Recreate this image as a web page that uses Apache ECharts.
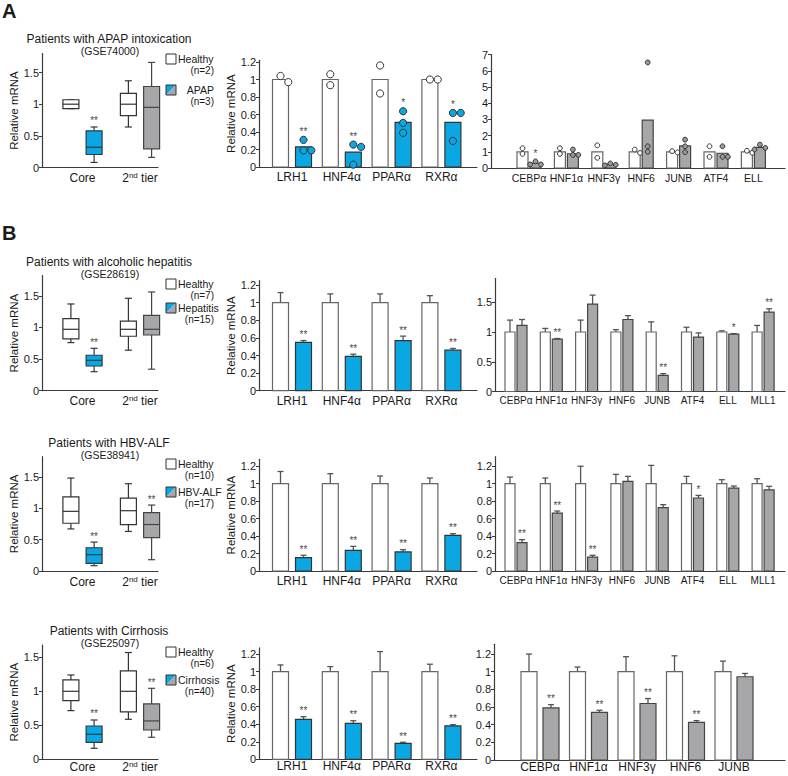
<!DOCTYPE html>
<html><head><meta charset="utf-8">
<script src="https://cdn.jsdelivr.net/npm/echarts@6/dist/echarts.min.js"></script>
<style>html,body{margin:0;padding:0;background:#fff}#c{width:788px;height:776px}</style>
</head><body><div id="c"></div>
<script>
// ---------------- DATA ----------------
const boxCategories = ['Core', '2nd tier'];
const coreGenes = ['LRH1', 'HNF4α', 'PPARα', 'RXRα'];
const apapGenes = ['CEBPα', 'HNF1α', 'HNF3γ', 'HNF6', 'JUNB', 'ATF4', 'ELL'];
const tierGenes8 = ['CEBPα', 'HNF1α', 'HNF3γ', 'HNF6', 'JUNB', 'ATF4', 'ELL', 'MLL1'];
const cirrGenes = ['CEBPα', 'HNF1α', 'HNF3γ', 'HNF6', 'JUNB'];

const boxTicks = [0, 0.5, 1, 1.5];
const midTicks = [0, 0.2, 0.4, 0.6, 0.8, 1, 1.2];
const apapRightTicks = [0, 1, 2, 3, 4, 5, 6, 7];
const ahRightTicks = [0, 0.5, 1, 1.5];

const titles = ['Patients with APAP intoxication', 'Patients with alcoholic hepatitis', 'Patients with HBV-ALF', 'Patients with Cirrhosis'];
const datasets = ['(GSE74000)', '(GSE28619)', '(GSE38941)', '(GSE25097)'];
const diseaseNames = ['APAP', 'Hepatitis', 'HBV-ALF', 'Cirrhosis'];
const healthyN = ['(n=2)', '(n=7)', '(n=10)', '(n=6)'];
const diseaseN = ['(n=3)', '(n=15)', '(n=17)', '(n=40)'];

// box stats: [min, q1, median, q3, max]
const apapBoxHealthy = [[0.93, 0.93, 1.0, 1.07, 1.07], [0.64, 0.82, 1.0, 1.17, 1.37]];
const apapBoxDisease = [[0.08, 0.205, 0.32, 0.58, 0.64], [0.16, 0.295, 0.95, 1.28, 1.66]];
const apapBoxSig = ['**', ''];
const apapCoreHealthyBar = [1, 1, 1, 1];
const apapCoreHealthyDots = [[1.04, 0.97], [1.06, 0.935], [1.16, 0.84], [1.0, 1.0]];
const apapCoreDiseaseBar = [0.23, 0.17, 0.51, 0.51];
const apapCoreDiseaseDots = [[0.31, 0.19, 0.19], [0.256, 0.23, 0.027], [0.637, 0.504, 0.39], [0.618, 0.618, 0.298]];
const apapCoreSig = ['**', '**', '*', '*'];
const apapTierHealthyBar = [1, 1, 1, 1, 1, 1, 1];
const apapTierHealthyDots = [[1.22, 0.87], [1.22, 0.87], [1.40, 0.63], [1.14, 0.93], [1.04, 0.96], [1.34, 0.69], [1.06, 0.94]];
const apapTierDiseaseBar = [0.3, 0.88, 0.22, 2.95, 1.36, 0.91, 1.27];
const apapTierDiseaseDots = [[0.41, 0.22, 0.22], [1.14, 0.81, 0.81], [0.28, 0.2, 0.16], [6.52, 1.34, 1.0], [1.75, 1.34, 0.98], [1.34, 0.69, 0.69], [1.44, 1.24, 1.14]];
const apapTierSig = ['*', '', '', '', '', '', ''];

const ahBoxHealthy = [[0.76, 0.82, 0.97, 1.14, 1.37], [0.64, 0.86, 0.97, 1.10, 1.46]];
const ahBoxDisease = [[0.30, 0.39, 0.48, 0.56, 0.67], [0.34, 0.88, 0.97, 1.19, 1.56]];
const ahBoxSig = ['**', ''];
const ahCoreHealthy = [1, 1, 1, 1];
const ahCoreHealthyErr = [0.115, 0.10, 0.10, 0.08];
const ahCoreDisease = [0.55, 0.39, 0.57, 0.46];
const ahCoreDiseaseErr = [0.02, 0.025, 0.05, 0.02];
const ahCoreSig = ['**', '**', '**', '**'];
const ahTierHealthy = [1, 1, 1, 1, 1, 1, 1, 1];
const ahTierHealthyErr = [0.2, 0.06, 0.2, 0.04, 0.17, 0.08, 0.02, 0.11];
const ahTierDisease = [1.11, 0.88, 1.47, 1.21, 0.27, 0.915, 0.965, 1.335];
const ahTierDiseaseErr = [0.1, 0.01, 0.15, 0.065, 0.03, 0.07, 0.008, 0.055];
const ahTierSig = ['', '**', '', '', '**', '', '*', '**'];

const hbvBoxHealthy = [[0.67, 0.76, 0.95, 1.18, 1.48], [0.63, 0.74, 0.96, 1.16, 1.39]];
const hbvBoxDisease = [[0.085, 0.12, 0.26, 0.37, 0.46], [0.18, 0.53, 0.74, 0.93, 1.05]];
const hbvBoxSig = ['**', '**'];
const hbvCoreHealthy = [1, 1, 1, 1];
const hbvCoreHealthyErr = [0.14, 0.115, 0.088, 0.065];
const hbvCoreDisease = [0.153, 0.237, 0.218, 0.408];
const hbvCoreDiseaseErr = [0.027, 0.045, 0.026, 0.02];
const hbvCoreSig = ['**', '**', '**', '**'];
const hbvTierHealthy = [1, 1, 1, 1, 1, 1, 1, 1];
const hbvTierHealthyErr = [0.076, 0.065, 0.2, 0.107, 0.21, 0.084, 0.046, 0.057];
const hbvTierDisease = [0.324, 0.664, 0.16, 1.027, 0.725, 0.836, 0.95, 0.93];
const hbvTierDiseaseErr = [0.035, 0.023, 0.02, 0.057, 0.035, 0.03, 0.023, 0.04];
const hbvTierSig = ['**', '**', '**', '', '', '*', '', ''];

const cirBoxHealthy = [[0.716, 0.863, 1.0, 1.167, 1.24], [0.588, 0.696, 1.0, 1.30, 1.57]];
const cirBoxDisease = [[0.162, 0.25, 0.368, 0.49, 0.578], [0.324, 0.431, 0.564, 0.814, 1.044]];
const cirBoxSig = ['**', '**'];
const cirCoreHealthy = [1, 1, 1, 1];
const cirCoreHealthyErr = [0.076, 0.057, 0.228, 0.084];
const cirCoreDisease = [0.456, 0.41, 0.182, 0.38];
const cirCoreDiseaseErr = [0.03, 0.03, 0.012, 0.015];
const cirCoreSig = ['**', '**', '**', '**'];
const cirTierHealthy = [1, 1, 1, 1, 1];
const cirTierHealthyErr = [0.2, 0.053, 0.17, 0.18, 0.12];
const cirTierDisease = [0.59, 0.54, 0.64, 0.426, 0.943];
const cirTierDiseaseErr = [0.037, 0.023, 0.056, 0.02, 0.037];
const cirTierSig = ['**', '**', '**', '**', ''];

// ---------------- STYLE / LAYOUT ----------------
const FONT = '"Liberation Sans", Arial, Helvetica, sans-serif';
const BLUE = '#0AA7E2';
const GRAY = '#A7A7A9';
const AXIS = '#3a3a3a';
const TXT = '#1a1a1a';

const boxX = { left: 42, right: 158, first: 82.5, spacing: 57.5, w: 16, off: 11.6 };
const midX = { left: 259, right: 477, first: 292, spacing: 49.8, w: 16, off: 11.5 };
const rows = [
  { titleY: 39, legY: [54, 85], nameRight: true, margin: 4,
    box: { y0: 167.5, ppu: 63.3, ymax: 1.8 }, mid: { y0: 167, ppu: 87.5, ymax: 1.22 },
    right: { left: 491, right: 785, first: 529, spacing: 37.4, w: 11, off: 6.5, font: 10.5, y0: 168, ppu: 16.2, ymax: 7, ticks: apapRightTicks } },
  { titleY: 262, legY: [279, 303], margin: 4,
    box: { y0: 390.7, ppu: 63.3, ymax: 1.82 }, mid: { y0: 390.7, ppu: 88, ymax: 1.25 },
    right: { left: 495, right: 785, first: 516, spacing: 35.3, w: 10, off: 6, font: 10, y0: 391.5, ppu: 59.5, ymax: 1.9, ticks: ahRightTicks } },
  { titleY: 443, legY: [459, 487], margin: 4,
    box: { y0: 571, ppu: 62.8, ymax: 1.82 }, mid: { y0: 571, ppu: 87.3, ymax: 1.28 },
    right: { left: 495, right: 785, first: 516, spacing: 35.3, w: 10, off: 6, font: 10, y0: 571, ppu: 87.3, ymax: 1.31, ticks: midTicks } },
  { titleY: 630.7, legY: [647, 675], margin: 1,
    box: { y0: 759.3, ppu: 68, ymax: 1.68 }, mid: { y0: 759.3, ppu: 87.7, ymax: 1.27 },
    right: { left: 494, right: 785, first: 540, spacing: 48.5, w: 16, off: 11, font: 12, y0: 760, ppu: 88.3, ymax: 1.31, ticks: midTicks } }
];

const option = {
  animation: false, backgroundColor: '#fff',
  grid: [], xAxis: [], yAxis: [], series: [], graphic: { elements: [] }
};

function addPanel(xc, yc, ticks, cats, catFont, margin, yName, nameGap, rich) {
  const idx = option.grid.length;
  const h = yc.ymax * yc.ppu;
  option.grid.push({ left: xc.left, top: yc.y0 - h, width: xc.right - xc.left, height: h, containLabel: false, outerBoundsMode: 'none' });
  option.xAxis.push({
    type: 'value', gridIndex: idx,
    min: -(xc.first - xc.left) / xc.spacing, max: (xc.right - xc.first) / xc.spacing,
    splitLine: { show: false }, axisTick: { show: false },
    axisLine: { show: true, onZero: false, lineStyle: { color: AXIS, width: 1.2 } },
    axisLabel: {
      customValues: cats.map((c, i) => i),
      formatter: v => {
        const c = cats[Math.round(v)] || '';
        if (rich && /^2nd/.test(c)) return '{n|2}{s|nd}{n|' + c.slice(3) + '}';
        return rich ? '{n|' + c + '}' : c;
      },
      fontSize: catFont, fontFamily: FONT, color: TXT, margin: margin, rich: rich
    }
  });
  option.yAxis.push({
    type: 'value', gridIndex: idx, min: 0, max: yc.ymax,
    splitLine: { show: false },
    axisLine: { show: true, onZero: false, lineStyle: { color: AXIS, width: 1.2 } },
    axisTick: { show: true, length: 3, customValues: ticks, lineStyle: { color: AXIS, width: 1 } },
    axisLabel: { customValues: ticks, formatter: v => String(v), fontSize: 11, fontFamily: FONT, color: TXT, margin: 3 },
    name: yName, nameLocation: 'middle', nameGap: nameGap,
    nameTextStyle: { fontSize: 11.5, fontFamily: FONT, color: TXT }
  });
  return idx;
}

function starText(x, y, s) {
  return { type: 'text', style: { text: s, x: x, y: y, align: 'center', verticalAlign: 'middle', font: '10px ' + FONT, fill: '#4a4a4a' } };
}

function boxSeries(ai, stats, fills, strokes, sig, off, w) {
  option.series.push({
    type: 'custom', xAxisIndex: ai, yAxisIndex: ai, clip: false,
    data: stats.map((s, i) => [i].concat(s)),
    encode: { x: 0, y: [1, 2, 3, 4, 5] },
    renderItem: function (params, api) {
      const i = params.dataIndex;
      const s = stats[i];
      const cx = api.coord([i, 0])[0] + off;
      const Y = v => api.coord([i, v])[1];
      const st = strokes[i];
      const ls = { stroke: st, lineWidth: 1.2 };
      const cw = w * 0.22;
      const ch = [
        { type: 'line', shape: { x1: cx, y1: Y(s[4]), x2: cx, y2: Y(s[3]) }, style: ls },
        { type: 'line', shape: { x1: cx, y1: Y(s[1]), x2: cx, y2: Y(s[0]) }, style: ls },
        { type: 'line', shape: { x1: cx - cw, y1: Y(s[4]), x2: cx + cw, y2: Y(s[4]) }, style: ls },
        { type: 'line', shape: { x1: cx - cw, y1: Y(s[0]), x2: cx + cw, y2: Y(s[0]) }, style: ls },
        { type: 'rect', shape: { x: cx - w / 2, y: Y(s[3]), width: w, height: Y(s[1]) - Y(s[3]) }, style: { fill: fills[i], stroke: st, lineWidth: 1.2 } },
        { type: 'line', shape: { x1: cx - w / 2, y1: Y(s[2]), x2: cx + w / 2, y2: Y(s[2]) }, style: ls }
      ];
      if (sig[i]) ch.push(starText(cx, Y(s[4]) - 6, sig[i]));
      return { type: 'group', children: ch };
    }
  });
}

function swarm(cx, ys, r) {
  const d = 2 * r + 0.6;
  const placed = [];
  ys.forEach(y => {
    const cands = [0, d, -d, 2 * d, -2 * d];
    for (const o of cands) {
      const x = cx + o;
      if (placed.every(p => (p[0] - x) * (p[0] - x) + (p[1] - y) * (p[1] - y) >= d * d * 0.9)) { placed.push([x, y]); break; }
    }
  });
  return placed;
}

function dotBarSeries(ai, bars, dots, sig, fill, stroke, dotFill, off, w, r) {
  option.series.push({
    type: 'custom', xAxisIndex: ai, yAxisIndex: ai, clip: false,
    data: bars.map((b, i) => [i, b]),
    encode: { x: 0, y: 1 },
    renderItem: function (params, api) {
      const i = params.dataIndex;
      const cx = api.coord([i, 0])[0] + off;
      const Y = v => api.coord([i, v])[1];
      const y0 = Y(0), yb = Y(bars[i]);
      const ch = [{ type: 'rect', shape: { x: cx - w / 2, y: yb, width: w, height: y0 - yb }, style: { fill: fill, stroke: stroke, lineWidth: 1.2 } }];
      const pts = swarm(cx, dots[i].map(Y), r);
      let top = yb;
      pts.forEach(p => {
        ch.push({ type: 'circle', shape: { cx: p[0], cy: p[1], r: r }, style: { fill: dotFill, stroke: '#333', lineWidth: 1 } });
        top = Math.min(top, p[1] - r);
      });
      if (sig && sig[i]) ch.push(starText(cx, top - 5, sig[i]));
      return { type: 'group', children: ch };
    }
  });
}

function errBarSeries(ai, means, errs, sig, fill, stroke, off, w) {
  option.series.push({
    type: 'custom', xAxisIndex: ai, yAxisIndex: ai, clip: false,
    data: means.map((m, i) => [i, m, errs[i]]),
    encode: { x: 0, y: 1 },
    renderItem: function (params, api) {
      const i = params.dataIndex;
      const cx = api.coord([i, 0])[0] + off;
      const Y = v => api.coord([i, v])[1];
      const y0 = Y(0), yb = Y(means[i]), ye = Y(means[i] + errs[i]);
      const es = { stroke: '#555', lineWidth: 1.3 };
      const ch = [
        { type: 'line', shape: { x1: cx, y1: yb, x2: cx, y2: ye }, style: es },
        { type: 'line', shape: { x1: cx - 3, y1: ye, x2: cx + 3, y2: ye }, style: es },
        { type: 'rect', shape: { x: cx - w / 2, y: yb, width: w, height: y0 - yb }, style: { fill: fill, stroke: stroke, lineWidth: 1.2 } }
      ];
      if (sig && sig[i]) ch.push(starText(cx, ye - 6, sig[i]));
      return { type: 'group', children: ch };
    }
  });
}

const tierRich = { n: { fontSize: 12, fontFamily: FONT, color: TXT, lineHeight: 13 }, s: { fontSize: 8, fontFamily: FONT, color: TXT, lineHeight: 8, verticalAlign: 'top' } };

const boxData = [
  [apapBoxHealthy, apapBoxDisease, apapBoxSig],
  [ahBoxHealthy, ahBoxDisease, ahBoxSig],
  [hbvBoxHealthy, hbvBoxDisease, hbvBoxSig],
  [cirBoxHealthy, cirBoxDisease, cirBoxSig]
];
const coreErrData = [null,
  [ahCoreHealthy, ahCoreHealthyErr, ahCoreDisease, ahCoreDiseaseErr, ahCoreSig],
  [hbvCoreHealthy, hbvCoreHealthyErr, hbvCoreDisease, hbvCoreDiseaseErr, hbvCoreSig],
  [cirCoreHealthy, cirCoreHealthyErr, cirCoreDisease, cirCoreDiseaseErr, cirCoreSig]];
const tierErrData = [null,
  [tierGenes8, ahTierHealthy, ahTierHealthyErr, ahTierDisease, ahTierDiseaseErr, ahTierSig],
  [tierGenes8, hbvTierHealthy, hbvTierHealthyErr, hbvTierDisease, hbvTierDiseaseErr, hbvTierSig],
  [cirrGenes, cirTierHealthy, cirTierHealthyErr, cirTierDisease, cirTierDiseaseErr, cirTierSig]];

const G = option.graphic.elements;
function gText(x, y, text, size, align, weight) {
  G.push({ type: 'text', x: x, y: y, style: { text: text, align: align || 'center', verticalAlign: 'middle', font: (weight || 'normal') + ' ' + size + 'px ' + FONT, fill: TXT } });
}

rows.forEach((row, r) => {
  const b = addPanel(boxX, row.box, boxTicks, boxCategories, 12, row.margin, 'Relative mRNA', 21, tierRich);
  const [bh, bd, bs] = boxData[r];
  boxSeries(b, bh, ['#fff', '#fff'], ['#333', '#333'], ['', ''], -boxX.off, boxX.w);
  boxSeries(b, bd, [BLUE, GRAY], ['#2e3b44', '#444'], bs, boxX.off, boxX.w);
  const m = addPanel(midX, row.mid, midTicks, coreGenes, 12, row.margin, 'Relative mRNA', 19);
  const rc = row.right;
  const rcats = r === 0 ? apapGenes : tierErrData[r][0];
  const rt = addPanel(rc, rc, rc.ticks, rcats, rc.font, row.margin, '', 0);
  if (r === 0) {
    dotBarSeries(m, apapCoreHealthyBar, apapCoreHealthyDots, null, '#fff', '#666', '#fff', -midX.off, midX.w, 3.6);
    dotBarSeries(m, apapCoreDiseaseBar, apapCoreDiseaseDots, apapCoreSig, BLUE, '#333', BLUE, midX.off, midX.w, 3.6);
    dotBarSeries(rt, apapTierHealthyBar, apapTierHealthyDots, null, '#fff', '#666', '#fff', -rc.off, rc.w, 2.4);
    dotBarSeries(rt, apapTierDiseaseBar, apapTierDiseaseDots, apapTierSig, GRAY, '#444', '#999', rc.off, rc.w, 2.4);
  } else {
    const [ch, che, cd, cde, cs] = coreErrData[r];
    errBarSeries(m, ch, che, null, '#fff', '#666', -midX.off, midX.w);
    errBarSeries(m, cd, cde, cs, BLUE, '#333', midX.off, midX.w);
    const [, th, the, td, tde, ts] = tierErrData[r];
    errBarSeries(rt, th, the, null, '#fff', '#666', -rc.off, rc.w);
    errBarSeries(rt, td, tde, ts, GRAY, '#444', rc.off, rc.w);
  }
  gText(109, row.titleY, titles[r], 12);
  gText(110, row.titleY + 12, datasets[r], 10.5);
  const sx = 166, sw = 10;
  const y1 = row.legY[0], y2 = row.legY[1];
  G.push({ type: 'rect', shape: { x: sx, y: y1, width: sw, height: sw }, style: { fill: '#fff', stroke: '#333', lineWidth: 1 } });
  G.push({ type: 'polygon', shape: { points: [[sx, y2], [sx + sw, y2], [sx, y2 + sw]] }, style: { fill: BLUE } });
  G.push({ type: 'polygon', shape: { points: [[sx + sw, y2], [sx + sw, y2 + sw], [sx, y2 + sw]] }, style: { fill: GRAY } });
  G.push({ type: 'rect', shape: { x: sx, y: y2, width: sw, height: sw }, style: { fill: 'none', stroke: '#333', lineWidth: 1 } });
  gText(178, y1 + sw / 2, 'Healthy', 10.5, 'left');
  gText(214, y1 + sw / 2 + 11, healthyN[r], 10, 'right');
  if (row.nameRight) gText(214, y2 + sw / 2, diseaseNames[r], 10.5, 'right');
  else gText(178, y2 + sw / 2, diseaseNames[r], 10.5, 'left');
  gText(214, y2 + sw / 2 + 11, diseaseN[r], 10, 'right');
});

gText(2, 11, 'A', 20, 'left', 'bold');
gText(2, 233, 'B', 20, 'left', 'bold');

const chart = echarts.init(document.getElementById('c'), null, { renderer: 'svg', width: 788, height: 776 });
chart.setOption(option);
</script>
</body></html>
